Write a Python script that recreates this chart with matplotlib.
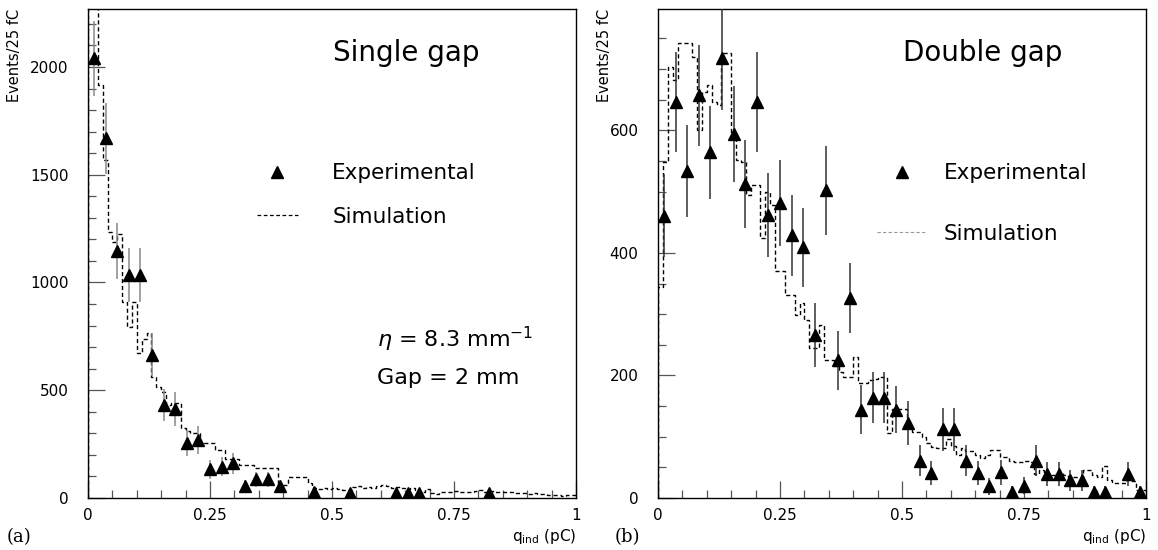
import numpy as np
import matplotlib
matplotlib.use("Agg")
import matplotlib.pyplot as plt
from matplotlib.ticker import MultipleLocator, FuncFormatter
from matplotlib.lines import Line2D

# ---- data (Events / 25 fC vs q_ind in pC) ----
# experimental points, panel (a) single gap
SG_X = [0.012, 0.036, 0.060, 0.083, 0.107, 0.131, 0.155, 0.179, 0.202, 0.226,
        0.250, 0.274, 0.298, 0.321, 0.345, 0.369, 0.393, 0.464, 0.536, 0.631,
        0.655, 0.679, 0.821]
SG_Y = [2040, 1670, 1145, 1035, 1035, 665, 430, 412, 255, 270,
        133, 146, 161, 56, 87, 87, 56, 29, 25, 25,
        25, 25, 25]
SG_ERR = [175, 165, 130, 125, 125, 100, 75, 78, 62, 65,
          43, 45, 50, 28, 35, 35, 28, 20, 18, 18,
          18, 18, 18]

# simulation histogram, panel (a), 0.01 pC bins from 0 to 1
SG_SIM = [2400, 2350, 1916, 1568, 1235, 1190, 1225, 910, 795, 910,
          671, 740, 767, 563, 517, 490, 432, 440, 440, 323,
          310, 300, 300, 254, 254, 254, 223, 223, 180, 180,
          180, 153, 153, 153, 138, 138, 138, 141, 141, 53,
          60, 99, 99, 99, 99, 68, 45, 42, 45, 40,
          45, 40, 35, 38, 50, 55, 48, 52, 45, 55,
          60, 55, 45, 52, 48, 40, 45, 35, 30, 40,
          25, 20, 30, 28, 30, 32, 30, 28, 30, 33,
          35, 30, 33, 30, 28, 30, 30, 25, 22, 25,
          20, 22, 18, 20, 15, 12, 15, 10, 12, 15]

# experimental points, panel (b) double gap
DG_X = [0.012, 0.036, 0.060, 0.083, 0.107, 0.131, 0.155, 0.179, 0.202, 0.226,
        0.250, 0.274, 0.298, 0.321, 0.345, 0.369, 0.393, 0.417, 0.440, 0.464,
        0.488, 0.512, 0.536, 0.560, 0.583, 0.607, 0.631, 0.655, 0.679, 0.702,
        0.726, 0.750, 0.774, 0.798, 0.821, 0.845, 0.869, 0.893, 0.917, 0.964,
        0.988]
DG_Y = [461, 646, 533, 657, 564, 718, 594, 512, 646, 462,
        481, 429, 409, 266, 502, 225, 326, 144, 164, 164,
        144, 123, 61, 41, 112, 112, 61, 41, 19, 42,
        9, 20, 61, 39, 39, 29, 29, 9, 9, 39,
        10]
DG_ERR = [68, 82, 75, 82, 76, 85, 78, 72, 82, 68,
          70, 66, 64, 52, 72, 48, 57, 40, 41, 41,
          38, 36, 25, 20, 35, 35, 25, 20, 14, 20,
          10, 14, 25, 20, 20, 17, 17, 10, 10, 20,
          10]

# simulation histogram, panel (b)
DG_SIM = [345, 549, 704, 682, 742, 742, 742, 720, 601, 663,
          674, 647, 641, 726, 726, 593, 552, 549, 495, 511,
          511, 424, 500, 478, 370, 370, 331, 331, 299, 318,
          290, 244, 244, 282, 225, 225, 215, 205, 198, 198,
          230, 187, 187, 192, 195, 198, 198, 106, 146, 146,
          146, 116, 107, 107, 100, 90, 84, 81, 81, 97,
          85, 70, 81, 76, 76, 70, 65, 70, 78, 78,
          67, 67, 60, 58, 58, 60, 58, 39, 45, 38,
          38, 38, 40, 38, 35, 35, 35, 46, 46, 38,
          35, 52, 30, 24, 24, 24, 30, 28, 13, 13]

SIM_BIN = 0.01
W, H = 1158, 550

fig = plt.figure(figsize=(W / 100, H / 100), dpi=100)
axL = fig.add_axes([88 / W, 52 / H, 488 / W, 489 / H])
axR = fig.add_axes([658 / W, 52 / H, 488 / W, 489 / H])


def style(ax, ymax, ymaj, ymin):
    ax.set_xlim(0, 1)
    ax.set_ylim(0, ymax)
    ax.xaxis.set_major_locator(MultipleLocator(0.25))
    ax.xaxis.set_minor_locator(MultipleLocator(0.05))
    ax.yaxis.set_major_locator(MultipleLocator(ymaj))
    ax.yaxis.set_minor_locator(MultipleLocator(ymin))
    ax.xaxis.set_major_formatter(FuncFormatter(lambda v, p: f"{v:g}"))
    ax.tick_params(which="both", direction="in", top=False, right=False,
                   color="#555555", labelsize=11, width=0.9)
    ax.tick_params(which="major", length=12)
    ax.tick_params(which="minor", length=6)
    ax.tick_params(axis="y", pad=14)
    ax.tick_params(axis="x", pad=7)
    for s in ax.spines.values():
        s.set_linewidth(1.0)


def draw(ax, x, y, err, sim, ecolor):
    edges = np.round(np.arange(len(sim) + 1) * SIM_BIN, 3)
    ax.stairs(sim, edges, color="k", lw=1.0, ls=(0, (3, 2)), zorder=2)
    ax.errorbar(x, y, yerr=err, fmt="^", color="k", ms=8, ecolor=ecolor,
                elinewidth=1.1, capsize=0, zorder=3)


style(axL, 2269, 500, 100)
style(axR, 798, 200, 50)
draw(axL, SG_X, SG_Y, SG_ERR, SG_SIM, "#888888")
draw(axR, DG_X, DG_Y, DG_ERR, DG_SIM, "#333333")

h_exp = Line2D([], [], ls="none", marker="^", color="k", ms=8)
h_simL = Line2D([], [], ls=(0, (3, 2)), color="k", lw=0.9)
h_simR = Line2D([], [], ls=(0, (3, 2)), color="#999999", lw=0.8)

axL.legend([h_exp, h_simL], ["Experimental", "Simulation"], loc="upper left",
           bbox_to_anchor=(0.346, 0.685), frameon=False, fontsize=15.5,
           handlelength=1.9, handletextpad=1.6, labelspacing=1.1,
           borderpad=0, borderaxespad=0)
axR.legend([h_exp, h_simR], ["Experimental", "Simulation"], loc="upper left",
           bbox_to_anchor=(0.449, 0.685), frameon=False, fontsize=15.5,
           handlelength=2.3, handletextpad=0.8, labelspacing=1.9,
           borderpad=0, borderaxespad=0)

axL.text(0.502, 0.91, "Single gap", transform=axL.transAxes, fontsize=20,
         va="center", ha="left")
axR.text(0.502, 0.91, "Double gap", transform=axR.transAxes, fontsize=20,
         va="center", ha="left")
axL.text(0.592, 0.325, r"$\eta$ = 8.3 mm$^{\mathregular{-1}}$", transform=axL.transAxes,
         fontsize=16, va="center", ha="left")
axL.text(0.592, 0.245, "Gap = 2 mm", transform=axL.transAxes,
         fontsize=16, va="center", ha="left")

for ax, xl in ((axL, -0.15), (axR, -0.109)):
    ax.text(xl, 1.0, "Events/25 fC", transform=ax.transAxes, rotation=90,
            ha="center", va="top", fontsize=10.5)
    ax.text(1.0, -0.078, r"q$_{\mathregular{ind}}$ (pC)", transform=ax.transAxes,
            ha="right", va="center", fontsize=11)

fig.text(7 / W, 1 - 537 / H, "(a)", family="serif", fontsize=13, va="center")
fig.text(615 / W, 1 - 537 / H, "(b)", family="serif", fontsize=13, va="center")

fig.savefig("out.png", dpi=100)
